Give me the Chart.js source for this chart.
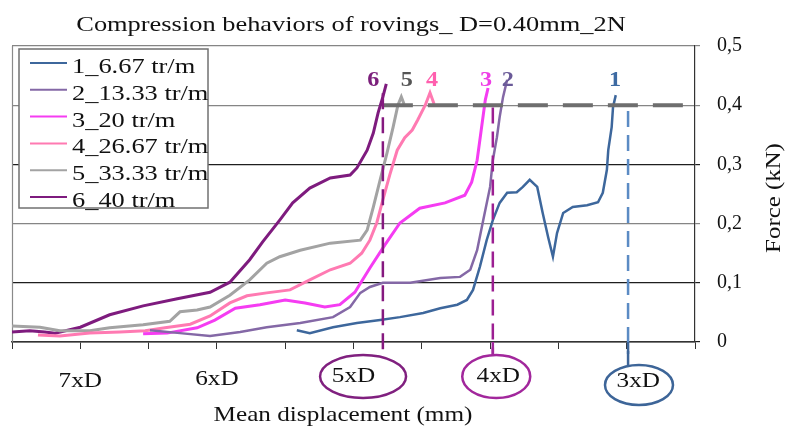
<!DOCTYPE html>
<html>
<head>
<meta charset="utf-8">
<script src="https://cdn.jsdelivr.net/npm/chart.js@4.4.0/dist/chart.umd.min.js"></script>
<style>
  body { margin: 0; background: #fff; }
</style>
</head>
<body>
<canvas id="chart" width="786" height="432"></canvas>
<script>
// series names and colours
const seriesNames = ['1_6.67 tr/m', '2_13.33 tr/m', '3_20 tr/m', '4_26.67 tr/m', '5_33.33 tr/m', '6_40 tr/m'];
const seriesColors = ['#3d679c', '#8468a6', '#f53cf2', '#ff7ab2', '#a3a3a3', '#7e1b7e'];
const peakNames = ['1', '2', '3', '4', '5', '6'];
const peakColors = ['#3d6aa2', '#6a5a98', '#ee3ee6', '#ff5fae', '#555555', '#7b1f7b'];
const peakX = [8.83, 7.26, 6.94, 6.15, 5.78, 5.29];

// x position on the axis (0..10 tick units), force in kN
const disp1 = [4.17, 4.36, 4.70, 5.05, 5.39, 5.68, 6.02, 6.27, 6.52, 6.66, 6.75, 6.85, 6.95, 7.04, 7.14, 7.25, 7.39, 7.48, 7.58, 7.69, 7.77, 7.85, 7.92, 7.98, 8.07, 8.21, 8.42, 8.58, 8.65, 8.71, 8.73, 8.78, 8.80, 8.84];
const force1 = [0.020, 0.015, 0.025, 0.032, 0.037, 0.042, 0.049, 0.057, 0.063, 0.071, 0.088, 0.127, 0.172, 0.206, 0.235, 0.252, 0.253, 0.262, 0.274, 0.262, 0.218, 0.177, 0.144, 0.184, 0.218, 0.228, 0.231, 0.236, 0.252, 0.291, 0.324, 0.363, 0.397, 0.417];
const disp2 = [2.02, 2.46, 2.90, 3.34, 3.73, 4.22, 4.70, 4.95, 5.10, 5.24, 5.43, 5.83, 6.27, 6.56, 6.71, 6.81, 6.90, 7.00, 7.04, 7.10, 7.14, 7.19, 7.25];
const force2 = [0.020, 0.015, 0.010, 0.017, 0.025, 0.032, 0.042, 0.059, 0.083, 0.093, 0.100, 0.100, 0.108, 0.110, 0.122, 0.155, 0.206, 0.262, 0.307, 0.346, 0.380, 0.414, 0.443];
const disp3 = [1.92, 2.27, 2.71, 2.97, 3.27, 3.63, 4.00, 4.29, 4.58, 4.80, 5.02, 5.24, 5.46, 5.68, 5.97, 6.34, 6.63, 6.73, 6.81, 6.87, 6.93, 6.97];
const force3 = [0.014, 0.015, 0.024, 0.037, 0.057, 0.063, 0.071, 0.066, 0.059, 0.063, 0.084, 0.125, 0.164, 0.201, 0.226, 0.235, 0.248, 0.270, 0.307, 0.358, 0.409, 0.429];
const disp4 = [0.38, 0.70, 1.14, 1.58, 1.95, 2.24, 2.61, 2.90, 3.19, 3.44, 3.73, 4.07, 4.36, 4.66, 4.95, 5.12, 5.24, 5.34, 5.43, 5.53, 5.64, 5.75, 5.86, 5.94, 6.05, 6.12, 6.18];
const force4 = [0.012, 0.010, 0.015, 0.017, 0.019, 0.024, 0.030, 0.044, 0.066, 0.078, 0.083, 0.088, 0.105, 0.122, 0.133, 0.150, 0.172, 0.201, 0.240, 0.282, 0.324, 0.345, 0.358, 0.375, 0.400, 0.421, 0.402];
const disp5 = [0, 0.41, 0.70, 1.14, 1.43, 1.92, 2.31, 2.46, 2.71, 2.90, 3.19, 3.48, 3.73, 3.92, 4.22, 4.66, 5.10, 5.20, 5.29, 5.39, 5.49, 5.58, 5.65, 5.70, 5.74];
const force5 = [0.027, 0.025, 0.019, 0.019, 0.024, 0.029, 0.035, 0.051, 0.054, 0.059, 0.079, 0.105, 0.133, 0.144, 0.155, 0.167, 0.172, 0.189, 0.228, 0.274, 0.319, 0.363, 0.400, 0.414, 0.402];
const disp6 = [0, 0.26, 0.48, 0.63, 1.00, 1.43, 1.92, 2.42, 2.90, 3.19, 3.48, 3.67, 3.92, 4.11, 4.36, 4.66, 4.95, 5.05, 5.20, 5.29, 5.36, 5.43, 5.48];
const force6 = [0.017, 0.019, 0.017, 0.015, 0.025, 0.046, 0.061, 0.073, 0.084, 0.101, 0.139, 0.169, 0.206, 0.235, 0.260, 0.277, 0.282, 0.294, 0.324, 0.353, 0.387, 0.414, 0.436];

// x axis labels (thickness in multiples of D)
const xLabels = ['7xD', '6xD', '5xD', '4xD', '3xD'];
const xLabelAt = [1, 3, 5, 7.12, 9.17];
const circleAt = [null, null, 5.14, 7.09, 9.18];
const circleColors = [null, null, '#80207f', '#a2279c', '#3d6598'];

// dashed markers
const markerX = [5.43, 7.04, 9.02];
const markerTop = [0.42, 0.396, 0.39];
const markerColors = ['#85197f', '#9c1f92', '#5b8bc4'];
const limitForce = 0.4;

const FONT = '"Liberation Serif", "Times New Roman", serif';

function txt(ctx, s, x, y, size, color, align, bold, sx) {
    ctx.save();
    ctx.translate(x, y);
    ctx.scale(sx || 1.2, 1);
    ctx.font = (bold ? 'bold ' : '') + size + 'px ' + FONT;
    ctx.fillStyle = color;
    ctx.textAlign = align || 'center';
    ctx.textBaseline = 'alphabetic';
    ctx.fillText(s, 0, 0);
    ctx.restore();
}

const allDisp = [disp1, disp2, disp3, disp4, disp5, disp6];
const allForce = [force1, force2, force3, force4, force5, force6];

const datasets = seriesNames.map(function (name, i) {
    return {
        label: name,
        data: allDisp[i].map(function (x, j) { return { x: x, y: allForce[i][j] }; }),
        borderColor: seriesColors[i],
        borderWidth: i === 0 || i === 1 ? 2.5 : 3,
        pointRadius: 0,
        tension: 0,
        fill: false
    };
});

const decorations = {
    id: 'decorations',
    beforeDatasetsDraw(chart) {
        const ctx = chart.ctx;
        const a = chart.chartArea;
        ctx.save();
        ctx.strokeStyle = '#8a8a8a';
        ctx.lineWidth = 1.2;
        ctx.beginPath();
        ctx.moveTo(a.left + 0.5, a.top);
        ctx.lineTo(a.left + 0.5, a.bottom);
        ctx.stroke();
        ctx.restore();
    },
    afterDatasetsDraw(chart) {
        const ctx = chart.ctx;
        const xs = chart.scales.x;
        const ys = chart.scales.y;
        const a = chart.chartArea;
        ctx.save();
        // horizontal limit line
        ctx.strokeStyle = '#6e6e6e';
        ctx.lineWidth = 4;
        ctx.setLineDash([30, 15]);
        ctx.beginPath();
        ctx.moveTo(xs.getPixelForValue(markerX[0]), ys.getPixelForValue(limitForce));
        ctx.lineTo(a.right, ys.getPixelForValue(limitForce));
        ctx.stroke();
        // vertical markers
        ctx.lineWidth = 2.5;
        ctx.setLineDash([16, 8]);
        markerX.forEach(function (mx, i) {
            const px = xs.getPixelForValue(mx);
            ctx.strokeStyle = markerColors[i];
            ctx.beginPath();
            ctx.moveTo(px, ys.getPixelForValue(markerTop[i]));
            ctx.lineTo(px, a.bottom + 12);
            ctx.stroke();
        });
        ctx.restore();
        // curve numbers
        peakNames.forEach(function (n, i) {
            txt(ctx, n, xs.getPixelForValue(peakX[i]), ys.getPixelForValue(0.432), 22, peakColors[i], 'center', true, 1.1);
        });
    },
    afterDraw(chart) {
        const ctx = chart.ctx;
        const xs = chart.scales.x;
        const a = chart.chartArea;

        // legend
        ctx.save();
        ctx.fillStyle = '#ffffff';
        ctx.fillRect(19, 49, 189, 159);
        ctx.strokeStyle = '#707070';
        ctx.lineWidth = 1.5;
        ctx.strokeRect(19, 49, 189, 159);
        chart.data.datasets.forEach(function (ds, i) {
            const y = 63 + i * 26.8;
            ctx.strokeStyle = ds.borderColor;
            ctx.lineWidth = 2;
            ctx.beginPath();
            ctx.moveTo(30, y);
            ctx.lineTo(67, y);
            ctx.stroke();
            txt(ctx, ds.label, 72, y + 10, 22, '#111', 'left', false, 1.2);
        });
        ctx.restore();

        // x labels with circles
        xLabels.forEach(function (lab, i) {
            const px = xs.getPixelForValue(xLabelAt[i]);
            const base = i === 4 || i === 0 ? 387 : (i === 1 ? 385 : 382);
            if (circleAt[i] !== null) {
                const cx = xs.getPixelForValue(circleAt[i]);
                const cy = i === 4 ? 385 : 376.5;
                const rx = i === 2 ? 43 : 34;
                const ry = i === 4 ? 20 : 21.5;
                ctx.save();
                ctx.strokeStyle = circleColors[i];
                ctx.lineWidth = 2.5;
                ctx.beginPath();
                ctx.ellipse(cx, cy, rx, ry, 0, 0, Math.PI * 2);
                ctx.stroke();
                ctx.restore();
            }
            txt(ctx, lab, px, base, 21, '#111', 'center', false, 1.2);
        });
        // connectors under the axis
        ctx.save();
        ctx.lineWidth = 2.5;
        [1, 2].forEach(function (i) {
            ctx.strokeStyle = circleColors[i + 2];
            const px = xs.getPixelForValue(markerX[i]);
            ctx.beginPath();
            ctx.moveTo(px, a.bottom);
            ctx.lineTo(px, i === 2 ? 365 : 355);
            ctx.stroke();
        });
        ctx.restore();

        // titles
        txt(ctx, 'Compression behaviors of rovings_ D=0.40mm_2N', 351, 31, 22, '#111', 'center', false, 1.2);
        txt(ctx, 'Mean displacement (mm)', 343, 421, 21, '#111', 'center', false, 1.2);
        ctx.save();
        ctx.translate(780, 198);
        ctx.rotate(-Math.PI / 2);
        txt(ctx, 'Force (kN)', 0, 0, 22, '#111', 'center', false, 1.13);
        ctx.restore();
    }
};

new Chart(document.getElementById('chart'), {
    type: 'line',
    data: { datasets: datasets },
    options: {
        responsive: false,
        animation: false,
        layout: { padding: { top: 46, left: 12, right: 0, bottom: 0 } },
        plugins: {
            legend: { display: false },
            tooltip: { enabled: false }
        },
        scales: {
            x: {
                type: 'linear',
                min: 0,
                max: 10,
                ticks: { display: false, stepSize: 1 },
                grid: { drawOnChartArea: false, drawTicks: true, tickLength: 7, color: '#333' },
                border: { color: '#333', width: 1.5 },
                afterFit: function (scale) { scale.height = 90; }
            },
            y: {
                position: 'right',
                min: 0,
                max: 0.5,
                ticks: {
                    stepSize: 0.1,
                    padding: 17,
                    color: '#111',
                    font: { family: FONT, size: 20 },
                    callback: function (v) { return v === 0 ? '0' : v.toFixed(1).replace('.', ','); }
                },
                grid: {
                    tickLength: 5,
                    lineWidth: 1.2,
                    color: function (c) {
                        const v = Math.round(c.tick.value * 10);
                        return (v === 1 || v === 3 || v === 0) ? '#1e1e1e' : '#858585';
                    }
                },
                border: { color: '#333', width: 1.2 },
                afterFit: function (scale) { scale.width = 91; }
            }
        }
    },
    plugins: [decorations]
});
</script>
</body>
</html>
